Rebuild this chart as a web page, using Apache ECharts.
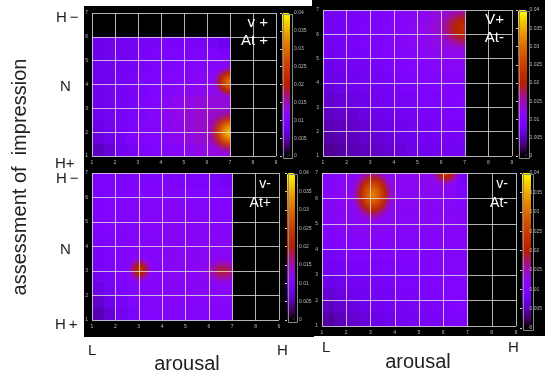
<!DOCTYPE html>
<html>
<head>
	<meta charset="utf-8">
	<title>arousal / impression maps</title>
	<style>
		body { margin: 0; background: #fff; }
		#container { width: 545px; height: 376px; }
	</style>
</head>
<body>
<script type="text/javascript" src="https://cdn.jsdelivr.net/npm/echarts@6/dist/echarts.min.js"></script>
<div id="container"></div>
<script type="text/javascript">
	// background level, 0.5 x 0.5 cells, x from 1 to 7, rows top -> bottom
	var vpAtp = [ // v+ At+  (y 6 -> 1)
		[0.0075,0.0078,0.008,0.0085,0.009,0.009,0.0092,0.0093,0.0092,0.009,0.0088,0.0075],
		[0.0076,0.008,0.0082,0.0087,0.0092,0.0094,0.0096,0.0097,0.0098,0.0098,0.0098,0.0092],
		[0.0077,0.008,0.0084,0.0088,0.0093,0.0096,0.0098,0.01,0.0102,0.0104,0.0106,0.0108],
		[0.0077,0.0081,0.0085,0.009,0.0095,0.0098,0.01,0.0104,0.0108,0.0112,0.0114,0.0116],
		[0.0078,0.0082,0.0086,0.0091,0.0096,0.01,0.0105,0.011,0.0116,0.012,0.0122,0.0122],
		[0.0078,0.0082,0.0087,0.0092,0.0097,0.0104,0.0113,0.0122,0.0128,0.0132,0.0133,0.0133],
		[0.0077,0.0082,0.0088,0.0094,0.0099,0.0106,0.0117,0.0127,0.0134,0.0138,0.014,0.014],
		[0.0074,0.0082,0.009,0.0097,0.0102,0.0107,0.0115,0.0126,0.0135,0.014,0.0141,0.0141],
		[0.0068,0.0078,0.0088,0.0097,0.0102,0.0105,0.011,0.012,0.013,0.0136,0.0138,0.0138],
		[0.0055,0.0068,0.008,0.009,0.0097,0.0102,0.0104,0.0108,0.0118,0.0127,0.013,0.013]
	];
	var vpAtm = [ // v+ At-  (y 7 -> 1)
		[0.0085,0.0088,0.009,0.0093,0.0097,0.01,0.0105,0.011,0.012,0.013,0.0135,0.013],
		[0.0085,0.0088,0.0091,0.0094,0.0098,0.0102,0.0108,0.0115,0.0125,0.0135,0.014,0.014],
		[0.0083,0.0087,0.009,0.0094,0.0098,0.0102,0.0107,0.0113,0.012,0.0128,0.0132,0.0132],
		[0.008,0.0084,0.0088,0.0092,0.0096,0.01,0.0104,0.0108,0.0114,0.012,0.0124,0.0124],
		[0.0076,0.008,0.0084,0.0088,0.0092,0.0096,0.01,0.0103,0.0106,0.011,0.0113,0.0115],
		[0.0072,0.0076,0.008,0.0084,0.0088,0.0092,0.0096,0.0099,0.0102,0.0104,0.0106,0.0107],
		[0.0067,0.0071,0.0075,0.008,0.0084,0.0088,0.0092,0.0095,0.0098,0.01,0.0102,0.0103],
		[0.0062,0.0066,0.007,0.0075,0.008,0.0084,0.0088,0.0091,0.0094,0.0097,0.0099,0.01],
		[0.0057,0.0061,0.0065,0.007,0.0075,0.0079,0.0083,0.0087,0.009,0.0093,0.0095,0.0097],
		[0.0052,0.0056,0.006,0.0065,0.007,0.0074,0.0078,0.0082,0.0086,0.0089,0.0091,0.0093],
		[0.0046,0.005,0.0055,0.006,0.0065,0.0069,0.0073,0.0077,0.0081,0.0084,0.0087,0.0089],
		[0.004,0.0045,0.005,0.0055,0.006,0.0064,0.0068,0.0072,0.0076,0.008,0.0083,0.0085]
	];
	var vmAtp = [ // v- At+  (y 7 -> 1)
		[0.0095,0.0095,0.0096,0.0097,0.0097,0.0098,0.0097,0.0096,0.0095,0.0094,0.0092,0.0088],
		[0.0097,0.0098,0.0099,0.01,0.0101,0.0102,0.0102,0.0102,0.0101,0.01,0.0098,0.0095],
		[0.0098,0.01,0.0102,0.0103,0.0104,0.0105,0.0106,0.0106,0.0105,0.0104,0.0102,0.01],
		[0.0098,0.01,0.0102,0.0104,0.0105,0.0106,0.0107,0.0107,0.0107,0.0106,0.0105,0.0104],
		[0.0097,0.01,0.0102,0.0104,0.0106,0.0107,0.0108,0.0108,0.0108,0.0108,0.0108,0.0107],
		[0.0095,0.0099,0.0102,0.0105,0.0106,0.0106,0.0108,0.0109,0.011,0.0111,0.0112,0.0112],
		[0.0092,0.0097,0.0102,0.0107,0.0108,0.0107,0.0109,0.011,0.0112,0.0114,0.0115,0.0115],
		[0.0088,0.0095,0.0102,0.0108,0.011,0.0108,0.011,0.0112,0.0114,0.0116,0.0117,0.0117],
		[0.0082,0.0092,0.01,0.0107,0.0109,0.0107,0.011,0.0112,0.0113,0.0115,0.0116,0.0116],
		[0.0072,0.0085,0.0096,0.0104,0.0106,0.0106,0.0107,0.0108,0.011,0.0112,0.0113,0.0113],
		[0.006,0.0075,0.009,0.01,0.0104,0.0106,0.0106,0.0106,0.0107,0.0108,0.011,0.011],
		[0.005,0.0065,0.0082,0.0095,0.0102,0.0104,0.0105,0.0105,0.0105,0.0106,0.0107,0.0107]
	];
	var vmAtm = [ // v- At-  (y 7 -> 1)
		[0.0105,0.011,0.0115,0.012,0.012,0.0118,0.0115,0.0118,0.012,0.0122,0.0118,0.0095],
		[0.011,0.0115,0.0118,0.0125,0.0125,0.012,0.0116,0.0115,0.0116,0.0117,0.0114,0.0098],
		[0.011,0.0115,0.0117,0.0122,0.0122,0.0118,0.0115,0.0113,0.0112,0.0112,0.011,0.0105],
		[0.0108,0.0112,0.0115,0.0118,0.0118,0.0115,0.0112,0.011,0.011,0.011,0.011,0.0108],
		[0.0103,0.0107,0.011,0.0113,0.0113,0.0111,0.0108,0.0107,0.0107,0.0108,0.0108,0.0108],
		[0.0097,0.0101,0.0104,0.0106,0.0106,0.0105,0.0104,0.0104,0.0105,0.0106,0.0107,0.0107],
		[0.009,0.0094,0.0097,0.0099,0.01,0.01,0.01,0.0101,0.0102,0.0104,0.0105,0.0106],
		[0.0082,0.0086,0.009,0.0093,0.0095,0.0096,0.0097,0.0098,0.01,0.0102,0.0104,0.0105],
		[0.0073,0.0078,0.0083,0.0087,0.009,0.0092,0.0094,0.0096,0.0098,0.01,0.0102,0.0104],
		[0.0064,0.007,0.0076,0.0081,0.0085,0.0088,0.0091,0.0093,0.0096,0.0098,0.01,0.0102],
		[0.0055,0.0062,0.0069,0.0075,0.008,0.0084,0.0087,0.009,0.0093,0.0096,0.0098,0.01],
		[0.0045,0.0053,0.0061,0.0068,0.0074,0.0079,0.0083,0.0087,0.009,0.0093,0.0096,0.0098]
	];
	// hot spots: [x, y, peak value, radius x, radius y, surrounding level]
	var vpAtpPeaks = [[7.0, 2.0, 0.037, 1.0, 0.95, 0.014], [7.0, 4.1, 0.031, 0.8, 0.75, 0.012]];
	var vpAtmPeaks = [[6.95, 6.25, 0.023, 1.2, 1.0, 0.013]];
	var vmAtpPeaks = [[3.05, 3.05, 0.023, 0.6, 0.6, 0.011], [6.6, 3.0, 0.019, 0.95, 0.6, 0.0115]];
	var vmAtmPeaks = [[3.1, 6.15, 0.032, 0.95, 1.15, 0.012], [6.1, 7.0, 0.024, 0.65, 0.55, 0.012]];

	var panelTops = [6, 7, 7, 7];          // highest y of the data rows
	var panelTags = [['v +', 'At +'], ['V+', 'At-'], ['v-', 'At+'], ['v-', 'At-']];

	// gnuplot style palette (black - blue - red - yellow), 0 .. 0.04
	var palette = ['#000000','#400062','#5a00b4','#6e02ec','#8004ff','#8f08ec','#9c0db4','#a91562',
		'#b42000','#bf2d00','#ca3e00','#d35300','#dd6c00','#e68900','#efab00','#f7d200','#ffff00'];
	var vMax = 0.04;

	function hexRgb(h) { return [parseInt(h.substr(1, 2), 16), parseInt(h.substr(3, 2), 16), parseInt(h.substr(5, 2), 16)]; }
	function colorOf(v, alpha) {
		var t = Math.max(0, Math.min(1, v / vMax)) * (palette.length - 1);
		var i = Math.min(palette.length - 2, Math.floor(t)), f = t - i;
		var a = hexRgb(palette[i]), b = hexRgb(palette[i + 1]);
		var c = a.map(function (q, j) { return Math.round(q + (b[j] - q) * f); });
		return 'rgba(' + c[0] + ',' + c[1] + ',' + c[2] + ',' + alpha + ')';
	}

	var step = 0.5;
	function toCells(rows, top) {
		var out = [];
		for (var r = 0; r < rows.length; r++) {
			for (var c = 0; c < rows[r].length; c++) {
				out.push([1 + c * step, top - (r + 1) * step, rows[r][c]]);
			}
		}
		return out;
	}
	var panels = [vpAtp, vpAtm, vmAtp, vmAtm];
	var peaks = [vpAtpPeaks, vpAtmPeaks, vmAtpPeaks, vmAtmPeaks];

	// plot boxes and colour bars, in pixels
	var plotBox = [
		{left: 92, top: 13, width: 184, height: 143},
		{left: 323, top: 10, width: 189, height: 146},
		{left: 92, top: 173, width: 187, height: 147},
		{left: 322, top: 173, width: 194, height: 153}
	];
	var barBox = [
		{left: 282, top: 13, width: 8, height: 143},
		{left: 518, top: 10, width: 9, height: 146},
		{left: 287, top: 173, width: 8, height: 147},
		{left: 522, top: 173, width: 9, height: 155}
	];

	var grids = [], xAxes = [], yAxes = [], series = [], visualMaps = [], graphics = [];
	var lineCol = 'rgba(225,225,225,0.8)';
	var lab = '"Liberation Sans", Arial, sans-serif';

	graphics.push({type: 'rect', left: 84, top: 6, z: -5, shape: {width: 230, height: 331}, style: {fill: '#000'}});
	graphics.push({type: 'rect', left: 312, top: 0, z: -5, shape: {width: 233, height: 336}, style: {fill: '#000'}});

	function cellItem(params, api) {
		var x = api.value(0), y = api.value(1);
		var p0 = api.coord([x, y + step]);
		var p1 = api.coord([x + step, y]);
		return {
			type: 'rect',
			shape: {x: p0[0], y: p0[1], width: p1[0] - p0[0] + 0.6, height: p1[1] - p0[1] + 0.6},
			style: {fill: api.visual('color')}
		};
	}

	function peakRenderer(top) {
		return function (params, api) {
			var x = api.value(0), y = api.value(1), pk = api.value(2), base = api.value(5);
			var c = api.coord([x, y]);
			var sz = api.size([api.value(3), api.value(4)]);
			var lo = api.coord([1, 1]), hi = api.coord([7, top]);
			var stops = [
				{offset: 0, color: colorOf(pk, 1)},
				{offset: 0.3, color: colorOf(base + (pk - base) * 0.75, 1)},
				{offset: 0.55, color: colorOf(base + (pk - base) * 0.45, 0.95)},
				{offset: 0.8, color: colorOf(base + (pk - base) * 0.15, 0.6)},
				{offset: 1, color: colorOf(base, 0)}
			];
			return {
				type: 'group',
				clipPath: {type: 'rect', shape: {x: lo[0], y: hi[1], width: hi[0] - lo[0], height: lo[1] - hi[1]}},
				children: [{
					type: 'circle',
					x: c[0], y: c[1], scaleY: sz[1] / sz[0],
					shape: {cx: 0, cy: 0, r: sz[0]},
					style: {fill: {type: 'radial', x: 0.5, y: 0.5, r: 0.5, colorStops: stops}}
				}]
			};
		};
	}

	// plot grids: indices 0..3
	for (var i = 0; i < 4; i++) {
		var pb = plotBox[i];
		grids.push({left: pb.left, top: pb.top, width: pb.width, height: pb.height});
		xAxes.push({
			type: 'value', gridIndex: i, min: 1, max: 9, interval: 1, z: 5,
			axisLine: {show: false}, axisTick: {show: false},
			axisLabel: {fontSize: 5, color: '#bbb', margin: 4},
			splitLine: {show: true, lineStyle: {color: lineCol, width: 1}}
		});
		yAxes.push({
			type: 'value', gridIndex: i, min: 1, max: 7, interval: 1, z: 5,
			axisLine: {show: false}, axisTick: {show: false},
			axisLabel: {fontSize: 5, color: '#bbb', margin: 4},
			splitLine: {show: true, lineStyle: {color: lineCol, width: 1}}
		});
		series.push({
			type: 'custom', xAxisIndex: i, yAxisIndex: i, z: 2,
			encode: {x: 0, y: 1},
			data: toCells(panels[i], panelTops[i]),
			renderItem: cellItem
		});
		var small = i >= 2;
		graphics.push({type: 'text', right: 545 - (pb.left + pb.width) + 8, top: pb.top + (small ? 4 : 2), z: 10,
			style: {text: panelTags[i][0], fill: '#fff', font: (small ? '14px ' : '15px ') + lab, align: 'right'}});
		graphics.push({type: 'text', right: 545 - (pb.left + pb.width) + 8, top: pb.top + (small ? 23 : 20), z: 10,
			style: {text: panelTags[i][1], fill: '#fff', font: (small ? '14px ' : '15px ') + lab, align: 'right'}});
	}
	// hot spot series: indices 4..7
	for (var j = 0; j < 4; j++) {
		series.push({
			type: 'custom', xAxisIndex: j, yAxisIndex: j, z: 3, clip: false,
			encode: {x: 0, y: 1},
			data: peaks[j],
			renderItem: peakRenderer(panelTops[j])
		});
	}

	// colour bar grids: indices 4..7
	for (var k = 0; k < 4; k++) {
		var bb = barBox[k];
		visualMaps.push({
			type: 'continuous', seriesIndex: k, dimension: 2, min: 0, max: vMax,
			calculable: false, orient: 'vertical', padding: 0,
			left: bb.left, top: bb.top, itemWidth: bb.width, itemHeight: bb.height,
			inRange: {color: palette}
		});
		grids.push({left: bb.left, top: bb.top, width: bb.width, height: bb.height});
		xAxes.push({type: 'value', gridIndex: 4 + k, show: false});
		yAxes.push({
			type: 'value', gridIndex: 4 + k, min: 0, max: vMax, interval: 0.005, position: 'right', z: 5,
			axisLine: {show: false},
			axisTick: {show: true, inside: true, length: 2, lineStyle: {color: '#ccc'}},
			splitLine: {show: false},
			axisLabel: {fontSize: 5, color: '#bbb', margin: 4}
		});
		graphics.push({type: 'rect', left: bb.left - 1, top: bb.top - 1, z: 10, silent: true,
			shape: {width: bb.width + 1, height: bb.height + 1}, style: {fill: 'none', stroke: '#888', lineWidth: 1}});
	}

	// outer labels
	var sideTexts = [
		['H\u2009\u2212', 56, 10], ['N', 60, 79], ['H+', 55, 156],
		['H\u2009\u2212', 56, 171], ['N', 60, 242], ['H\u2009+', 55, 317]
	];
	sideTexts.forEach(function (t) {
		graphics.push({type: 'text', left: t[1], top: t[2], style: {text: t[0], fill: '#222', font: '15px ' + lab}});
	});
	[['L', 88, 343], ['H', 277, 343], ['L', 322, 340], ['H', 508, 340]].forEach(function (t) {
		graphics.push({type: 'text', left: t[1], top: t[2], style: {text: t[0], fill: '#222', font: '15px ' + lab}});
	});
	graphics.push({type: 'text', x: 187, y: 364, style: {text: 'arousal', fill: '#222', font: '20px ' + lab, align: 'center', verticalAlign: 'middle'}});
	graphics.push({type: 'text', x: 418, y: 362, style: {text: 'arousal', fill: '#222', font: '20px ' + lab, align: 'center', verticalAlign: 'middle'}});
	graphics.push({type: 'text', x: 20, y: 177, rotation: Math.PI / 2,
		style: {text: 'assessment of  impression', fill: '#222', font: '20px ' + lab, align: 'center', verticalAlign: 'middle'}});

	var myChart = echarts.init(document.getElementById('container'));
	var option = {
		backgroundColor: '#fff',
		animation: false,
		grid: grids,
		xAxis: xAxes,
		yAxis: yAxes,
		visualMap: visualMaps,
		series: series,
		graphic: graphics
	};
	myChart.setOption(option);
	window.addEventListener('resize', myChart.resize);
</script>
</body>
</html>
